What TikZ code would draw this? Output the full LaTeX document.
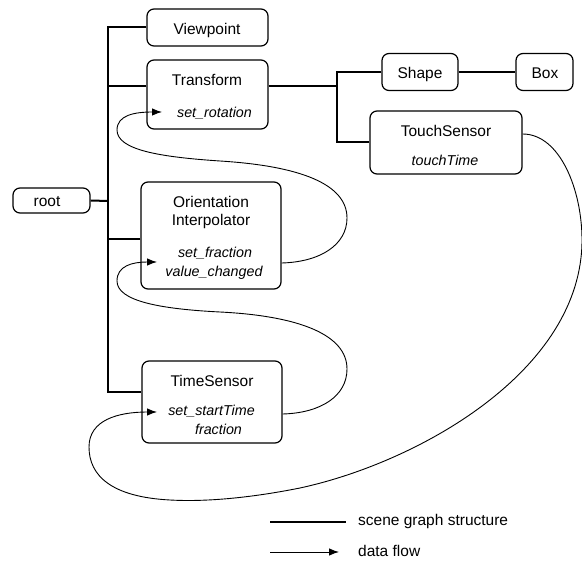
\documentclass[tikz,border=0pt]{standalone}
\usepackage{fontspec}
\setmainfont{Liberation Sans}
\usetikzlibrary{arrows.meta}
\begin{document}
\begin{tikzpicture}[x=1pt,y=-1pt,
  box/.style={draw, line width=1.2pt, rounded corners=7pt, inner sep=0pt},
  tree/.style={line width=2pt},
  flow/.style={line width=0.9pt, -{Latex[length=10pt,width=7.5pt]}},
  label/.style={anchor=base, inner sep=0pt, font=\fontsize{15.5}{18}\selectfont},
  port/.style={anchor=base, inner sep=0pt, font=\fontsize{14.3}{17}\selectfont\itshape}]
\useasboundingbox (0,0) rectangle (582,561);

% boxes
\node[box, minimum width=121pt, minimum height=37pt] (vp) at (207.5,27.5) {};
\node[box, minimum width=121pt, minimum height=69pt] (tf) at (207.5,94.5) {};
\node[box, minimum width=76pt, minimum height=37pt] (shape) at (420,72) {};
\node[box, minimum width=57pt, minimum height=37pt] (bx) at (544.5,72) {};
\node[box, minimum width=152pt, minimum height=63pt] (touch) at (446,142.5) {};
\node[box, minimum width=77pt, minimum height=25pt] (root) at (51.5,200.5) {};
\node[box, minimum width=140pt, minimum height=107pt] (oi) at (211,235.5) {};
\node[box, minimum width=140pt, minimum height=82pt] (ts) at (212,402) {};

% texts
\node[label] (vpT) at (207,35) {Viewpoint};
\node[label] (tfT) at (207,86) {Transform};
\node[port] (setrot) at (214.5,118) {set\_rotation};
\node[label] (shapeT) at (420,79) {Shape};
\node[label] (bxT) at (545,79) {Box};
\node[label] (touchT) at (446,137) {TouchSensor};
\node[port] (ttime) at (445,166) {touchTime};
\node[label] (rootT) at (47,207) {root};
\node[label] (oiT1) at (211,208) {Orientation};
\node[label] (oiT2) at (211,226) {Interpolator};
\node[port] (setfr) at (215,258) {set\_fraction};
\node[port] (valch) at (214,277) {value\_changed};
\node[label] (tsT) at (212,387) {TimeSensor};
\node[port] (setst) at (211.5,416) {set\_startTime};
\node[port] (frac) at (218.5,435) {fraction};

% scene graph structure
\coordinate (jroot) at (108,201);
\coordinate (jtf) at (337,86);
\draw[tree] (vp.west) -| (jroot) |- ([yshift=10pt]ts.west);
\draw[tree] (root.east) -- (jroot);
\draw[tree] ([yshift=8.5pt]tf.west) -- ([yshift=8.5pt]tf.west -| jroot);
\draw[tree] ([yshift=-3.5pt]oi.west) -- ([yshift=-3.5pt]oi.west -| jroot);
\draw[tree] ([yshift=8.5pt]tf.east) -- (jtf);
\draw[tree] (shape.west) -| (jtf) |- (touch.west);
\draw[tree] (shape.east) -- (bx.west);

% data flow
\coordinate (inRot) at (162,112);
\coordinate (inFrac) at (157,262);
\coordinate (inStart) at (157,412);
\draw[flow] ([yshift=8.5pt]touch.east)
  .. controls (560,134) and (582,190) .. (582,240)
  .. controls (582,370) and (420,462) .. (300,488)
  .. controls (250,498) and (205,502) .. (170,500)
  .. controls (112,497) and (89,476) .. (89,447)
  .. controls (89,420) and (118,412) .. (inStart);
\draw[flow] ([yshift=-27.5pt]oi.east)
  .. controls (320,262) and (347,245) .. (347,218)
  .. controls (347,184) and (300,166) .. (220,161)
  .. controls (160,157) and (117,150) .. (117,130)
  .. controls (117,115) and (135,112) .. (inRot);
\draw[flow] ([yshift=-12pt]ts.east)
  .. controls (321,413) and (347,396) .. (347,369)
  .. controls (347,335) and (300,316) .. (220,312)
  .. controls (160,309) and (117,301) .. (117,281)
  .. controls (117,266) and (132,262) .. (inFrac);

% legend
\coordinate (lgA1) at (270,522);
\coordinate (lgA2) at (346,522);
\coordinate (lgB1) at (270,552);
\coordinate (lgB2) at (339,552);
\draw[tree, line width=1.6pt] (lgA1) -- (lgA2);
\draw[flow] (lgB1) -- (lgB2);
\node[label, anchor=base west] (lgAT) at (358,526) {scene graph structure};
\node[label, anchor=base west] (lgBT) at (358,557) {data flow};
\end{tikzpicture}
\end{document}
